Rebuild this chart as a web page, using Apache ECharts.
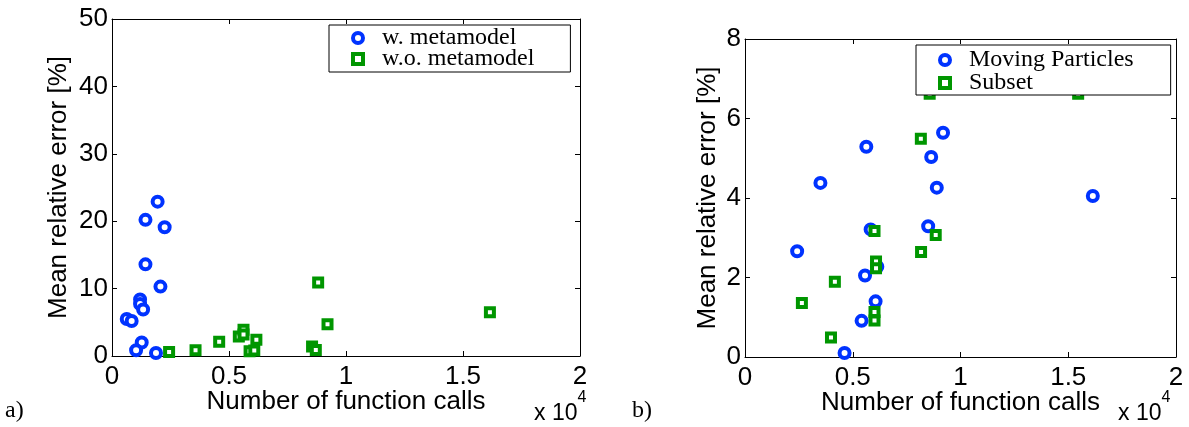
<!DOCTYPE html>
<html>
<head>
<meta charset="utf-8">
<script src="https://cdn.jsdelivr.net/npm/echarts@6/dist/echarts.min.js"></script>
<style>
html,body{margin:0;padding:0;background:#fff;}
#main{width:1189px;height:427px;}
</style>
</head>
<body>
<div id="main"></div>
<script>
// plot a) x in units of 10^4 function calls, y in %
var aWithX = [0.195, 0.143, 0.225, 0.143, 0.207, 0.120, 0.120, 0.133, 0.063, 0.084, 0.127, 0.103, 0.188];
var aWithY = [22.9, 20.2, 19.1, 13.6, 10.3, 8.4, 7.7, 6.9, 5.5, 5.2, 2.0, 0.85, 0.45];
var aWoX = [0.244, 0.357, 0.458, 0.542, 0.562, 0.562, 0.617, 0.588, 0.608, 0.881, 0.921, 0.855, 0.871, 1.615];
var aWoY = [0.6, 0.85, 2.1, 2.9, 3.9, 3.2, 2.4, 0.7, 0.8, 10.9, 4.7, 1.4, 0.9, 6.5];

// plot b)
var bMpX = [0.242, 0.350, 0.563, 0.919, 0.864, 0.890, 0.850, 0.583, 0.614, 0.557, 0.606, 0.541, 0.462, 1.614];
var bMpY = [2.66, 4.38, 5.29, 5.64, 5.03, 4.26, 3.29, 3.21, 2.27, 2.05, 1.40, 0.91, 0.10, 4.05];
var bSubX = [0.264, 0.417, 0.399, 0.601, 0.608, 0.608, 0.601, 0.601, 0.816, 0.817, 0.885, 0.857, 1.546];
var bSubY = [1.36, 1.89, 0.49, 3.17, 2.40, 2.23, 1.13, 0.92, 5.49, 2.64, 3.07, 6.62, 6.62];

var xTicks = [0, 0.5, 1, 1.5, 2];

var blue = '#0033ff', green = '#009600';
var sans = 'Liberation Sans', serif = 'Liberation Serif';

function pairs(xs, ys) {
    var out = [];
    for (var i = 0; i < xs.length; i++) out.push([xs[i], ys[i]]);
    return out;
}

function xAx(grid, pos) {
    return {
        type: 'value', gridIndex: grid, position: pos,
        min: xTicks[0], max: xTicks[xTicks.length - 1], interval: 0.5,
        axisLine: {onZero: false, lineStyle: {color: '#000', width: 1}},
        axisTick: {inside: true, length: 5, lineStyle: {color: '#000'}},
        axisLabel: {show: pos === 'bottom', color: '#000', fontFamily: sans, fontSize: 26, margin: 8},
        splitLine: {show: false},
        name: pos === 'bottom' ? 'Number of function calls' : '',
        nameLocation: 'middle', nameGap: 33, nameMoveOverlap: false,
        nameTextStyle: {color: '#000', fontFamily: sans, fontSize: 26}
    };
}
function yAx(grid, pos, max, step, gap) {
    return {
        type: 'value', gridIndex: grid, position: pos,
        min: 0, max: max, interval: step,
        axisLine: {onZero: false, lineStyle: {color: '#000', width: 1}},
        axisTick: {inside: true, length: 5, lineStyle: {color: '#000'}},
        axisLabel: {show: pos === 'left', color: '#000', fontFamily: sans, fontSize: 26, margin: 4},
        splitLine: {show: false},
        name: pos === 'left' ? 'Mean relative error [%]' : '',
        nameLocation: 'middle', nameGap: gap,
        nameTextStyle: {color: '#000', fontFamily: sans, fontSize: 26}
    };
}

function circles(name, data, xi, yi) {
    return {
        name: name, type: 'scatter', xAxisIndex: xi, yAxisIndex: yi,
        symbol: 'circle', symbolSize: 10, data: data,
        itemStyle: {color: '#fff', borderColor: blue, borderWidth: 4, opacity: 1},
        emphasis: {disabled: true}
    };
}
function squares(name, data, xi, yi) {
    return {
        name: name, type: 'scatter', xAxisIndex: xi, yAxisIndex: yi,
        symbol: 'rect', symbolSize: 8, data: data,
        itemStyle: {color: '#fff', borderColor: green, borderWidth: 4, opacity: 1},
        emphasis: {disabled: true}
    };
}

var myChart = echarts.init(document.getElementById('main'), null, {renderer: 'canvas'});
var option = {
    animation: false,
    backgroundColor: '#fff',
    grid: [
        {left: 112, top: 19, width: 468, height: 337},
        {left: 745, top: 39, width: 431, height: 318}
    ],
    xAxis: [xAx(0, 'bottom'), xAx(0, 'top'), xAx(1, 'bottom'), xAx(1, 'top')],
    yAxis: [yAx(0, 'left', 50, 10, 40), yAx(0, 'right', 50, 10, 0),
            yAx(1, 'left', 8, 2, 24), yAx(1, 'right', 8, 2, 0)],
    legend: [
        {
            orient: 'vertical', backgroundColor: '#fff',
            borderColor: '#000', borderWidth: 1, borderRadius: 0,
            left: 329, top: 25, padding: [1, 36, 1, 22],
            itemWidth: 10, itemHeight: 10, itemGap: -3,
            itemStyle: {borderWidth: 4},
            textStyle: {color: '#000', fontFamily: serif, fontSize: 24, padding: [0, 0, 0, 14]},
            data: ['w. metamodel', 'w.o. metamodel']
        },
        {
            orient: 'vertical', backgroundColor: '#fff',
            borderColor: '#000', borderWidth: 1, borderRadius: 0,
            left: 916, top: 45, padding: [3, 37, 0, 22],
            itemWidth: 10, itemHeight: 10, itemGap: -1,
            itemStyle: {borderWidth: 4},
            textStyle: {color: '#000', fontFamily: serif, fontSize: 24, padding: [0, 0, 0, 14]},
            data: ['Moving Particles', 'Subset']
        }
    ],
    series: [
        circles('w. metamodel', pairs(aWithX, aWithY), 0, 0),
        squares('w.o. metamodel', pairs(aWoX, aWoY), 0, 0),
        circles('Moving Particles', pairs(bMpX, bMpY), 2, 2),
        squares('Subset', pairs(bSubX, bSubY), 2, 2)
    ],
    graphic: [
        {type: 'text', left: 5, top: 399, style: {text: 'a)', font: '24px "Liberation Serif"', fill: '#000'}},
        {type: 'text', left: 632, top: 399, style: {text: 'b)', font: '24px "Liberation Serif"', fill: '#000'}},
        {type: 'text', left: 534, top: 390, style: {
            text: '{b|x 10}{s|4}', fill: '#000',
            rich: {b: {fontFamily: sans, fontSize: 23, padding: [12, 0, 0, 0]}, s: {fontFamily: sans, fontSize: 16, verticalAlign: 'top'}}
        }},
        {type: 'text', left: 1118, top: 390, style: {
            text: '{b|x 10}{s|4}', fill: '#000',
            rich: {b: {fontFamily: sans, fontSize: 23, padding: [12, 0, 0, 0]}, s: {fontFamily: sans, fontSize: 16, verticalAlign: 'top'}}
        }}
    ]
};
myChart.setOption(option);
</script>
</body>
</html>
